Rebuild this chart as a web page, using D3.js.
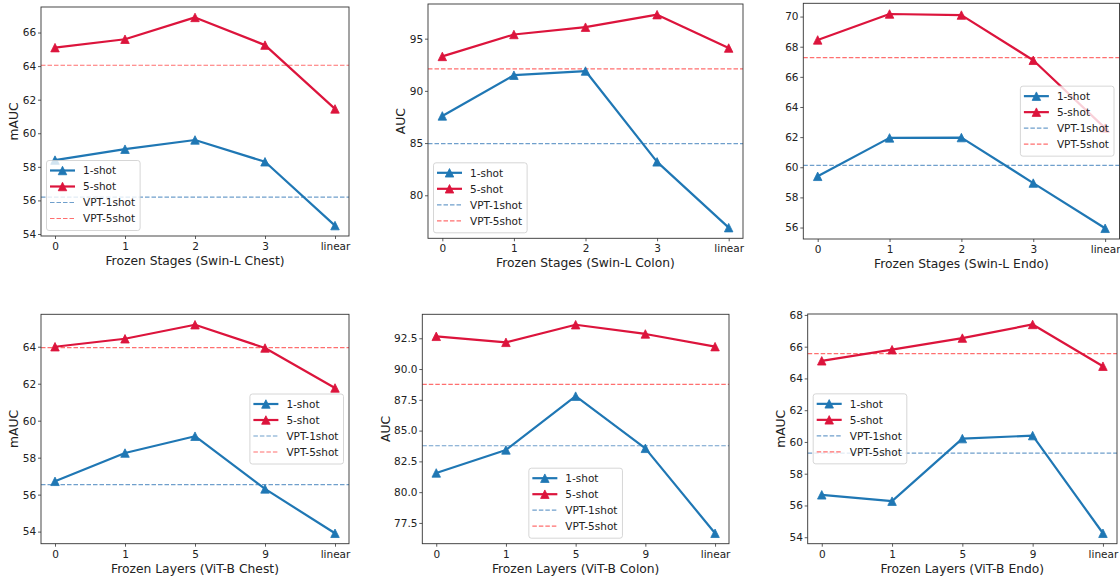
<!DOCTYPE html>
<html>
<head>
<meta charset="utf-8">
<script src="https://cdn.jsdelivr.net/npm/d3@7"></script>
<style>
  body { margin: 0; background: #fff; }
  svg { font-family: "DejaVu Sans", sans-serif; }
</style>
</head>
<body>
<svg id="chart" width="1120" height="578"></svg>
<script>
// tick labels on the x axis
const stageTicks = ["0", "1", "2", "3", "linear"];
const layerTicks = ["0", "1", "5", "9", "linear"];

// Swin-L results (1-shot, 5-shot, [VPT-1shot, VPT-5shot])
const swinChestOne = [58.4, 59.05, 59.6, 58.3, 54.5];
const swinChestFive = [65.1, 65.6, 66.9, 65.25, 61.45];
const swinChestVpt = [56.2, 64.05];

const swinColonOne = [87.6, 91.5, 91.9, 83.2, 76.9];
const swinColonFive = [93.3, 95.4, 96.1, 97.3, 94.1];
const swinColonVpt = [84.95, 92.1];

const swinEndoOne = [59.4, 61.95, 61.97, 58.95, 55.95];
const swinEndoFive = [68.45, 70.17, 70.1, 67.1, 62.6];
const swinEndoVpt = [60.13, 67.28];

// ViT-B results
const vitChestOne = [56.72, 58.25, 59.16, 56.31, 53.91];
const vitChestFive = [64.0, 64.43, 65.19, 63.93, 61.77];
const vitChestVpt = [56.54, 63.95];

const vitColonOne = [81.56, 83.43, 87.8, 83.56, 76.66];
const vitColonFive = [92.66, 92.17, 93.6, 92.85, 91.82];
const vitColonVpt = [83.77, 88.75];

const vitEndoOne = [56.67, 56.27, 60.21, 60.4, 54.25];
const vitEndoFive = [65.11, 65.81, 66.54, 67.4, 64.77];
const vitEndoVpt = [59.3, 65.56];

// y tick values
const swinChestY = [54, 56, 58, 60, 62, 64, 66];
const swinColonY = [80, 85, 90, 95];
const swinEndoY = [56, 58, 60, 62, 64, 66, 68, 70];
const vitChestY = [54, 56, 58, 60, 62, 64];
const vitColonY = [77.5, 80, 82.5, 85, 87.5, 90, 92.5];
const vitEndoY = [54, 56, 58, 60, 62, 64, 66, 68];

const legendLabels = ["1-shot", "5-shot", "VPT-1shot", "VPT-5shot"];

const panels = [
  { cats: stageTicks, one: swinChestOne, five: swinChestFive, vpt: swinChestVpt, yTicks: swinChestY,
    ylabel: "mAUC", xlabel: "Frozen Stages (Swin-L Chest)", box: [41, 7, 349, 236], loc: "lower left" },
  { cats: stageTicks, one: swinColonOne, five: swinColonFive, vpt: swinColonVpt, yTicks: swinColonY,
    ylabel: "AUC", xlabel: "Frozen Stages (Swin-L Colon)", box: [428, 4, 743, 238.3], loc: "lower left" },
  { cats: stageTicks, one: swinEndoOne, five: swinEndoFive, vpt: swinEndoVpt, yTicks: swinEndoY,
    ylabel: "", xlabel: "Frozen Stages (Swin-L Endo)", box: [803.3, 3.3, 1119.5, 239], loc: "center right" },
  { cats: layerTicks, one: vitChestOne, five: vitChestFive, vpt: vitChestVpt, yTicks: vitChestY,
    ylabel: "mAUC", xlabel: "Frozen Layers (ViT-B Chest)", box: [41, 314.3, 349, 543.7], loc: "center right" },
  { cats: layerTicks, one: vitColonOne, five: vitColonFive, vpt: vitColonVpt, yTicks: vitColonY,
    ylabel: "AUC", xlabel: "Frozen Layers (ViT-B Colon)", box: [422.3, 314.3, 729, 543.7], loc: "lower center", fmt: ".1f" },
  { cats: layerTicks, one: vitEndoOne, five: vitEndoFive, vpt: vitEndoVpt, yTicks: vitEndoY,
    ylabel: "mAUC", xlabel: "Frozen Layers (ViT-B Endo)", box: [807.7, 314, 1117, 543.7], loc: "center left" }
];

const blue = "#1f77b4";
const red = "#dc143c";
const vptBlue = "#6f9fcc";
const vptRed = "#ff6f6f";

// matplotlib style "^" marker: width == height, centred on the point
const triangleUp = {
  draw(ctx, size) {
    const r = Math.sqrt(size) / 2;
    ctx.moveTo(0, -r);
    ctx.lineTo(r, r);
    ctx.lineTo(-r, r);
    ctx.closePath();
  }
};
const marker = d3.symbol(triangleUp, 8.5 * 8.5);

const svg = d3.select("#chart");

let drawPanel = (p) => {
  const [x0, y0, x1, y1] = p.box;
  const g = svg.append("g");

  const x = d3.scaleLinear().domain([-0.2, p.cats.length - 0.8]).range([x0, x1]);
  const [lo, hi] = d3.extent(p.one.concat(p.five));
  const m = (hi - lo) * 0.05;
  const y = d3.scaleLinear().domain([lo - m, hi + m]).range([y1, y0]);

  // axes
  const xAxis = d3.axisBottom(x)
    .tickValues(d3.range(p.cats.length))
    .tickFormat((i) => p.cats[i])
    .tickSize(3).tickPadding(3.5);
  const xg = g.append("g").attr("transform", `translate(0,${y1})`).call(xAxis);

  const yAxis = d3.axisLeft(y)
    .tickValues(p.yTicks)
    .tickFormat(p.fmt ? d3.format(p.fmt) : d3.format("d"))
    .tickSize(3).tickPadding(1.8);
  const yg = g.append("g").attr("transform", `translate(${x0},0)`).call(yAxis);

  [xg, yg].forEach((a) => {
    a.select(".domain").remove();
    a.selectAll(".tick line").attr("stroke", "#333").attr("stroke-width", 0.8);
    a.selectAll(".tick text").attr("fill", "#222").style("font-size", "10.5px").style("font-family", "DejaVu Sans");
  });

  // VPT reference lines
  [[p.vpt[0], vptBlue], [p.vpt[1], vptRed]].forEach(([v, c]) => {
    g.append("line")
      .attr("x1", x0).attr("x2", x1)
      .attr("y1", y(v)).attr("y2", y(v))
      .attr("stroke", c).attr("stroke-width", 1.2)
      .attr("stroke-dasharray", "4.5,2");
  });

  // series
  const line = d3.line().x((d, i) => x(i)).y((d) => y(d));
  [[p.one, blue], [p.five, red]].forEach(([vals, c]) => {
    g.append("path")
      .attr("d", line(vals))
      .attr("fill", "none").attr("stroke", c).attr("stroke-width", 2.2)
      .attr("stroke-linejoin", "round");
    g.selectAll(null)
      .data(vals)
      .enter()
      .append("path")
      .attr("d", marker)
      .attr("transform", (d, i) => `translate(${x(i)},${y(d)})`)
      .attr("fill", c).attr("stroke", c).attr("stroke-width", 0.8);
  });

  // frame
  g.append("rect")
    .attr("x", x0).attr("y", y0)
    .attr("width", x1 - x0).attr("height", y1 - y0)
    .attr("fill", "none").attr("stroke", "#333").attr("stroke-width", 0.9);

  // labels
  g.append("text")
    .attr("x", (x0 + x1) / 2).attr("y", y1 + 29)
    .attr("text-anchor", "middle")
    .attr("fill", "#222").style("font-size", "12.3px")
    .text(p.xlabel);

  if (p.ylabel) {
    // getBBox is in the axis group's own coords, so shift by x0
    const left = x0 + yg.node().getBBox().x;
    g.append("text")
      .attr("transform", `translate(${left - 4.5},${(y0 + y1) / 2}) rotate(-90)`)
      .attr("text-anchor", "middle")
      .attr("fill", "#222").style("font-size", "12.3px")
      .text(p.ylabel);
  }

  // legend
  const rowH = 16, handle = 25, padL = 3.5, gap = 8, padR = 5;
  const lg = g.append("g");
  const box = lg.append("rect")
    .attr("fill", "#fff").attr("fill-opacity", 0.8)
    .attr("stroke", "#ccc").attr("stroke-width", 0.8).attr("rx", 2.5);
  let textW = 0;
  legendLabels.forEach((lab, i) => {
    const cy = 10 + i * rowH;
    const t = lg.append("text")
      .attr("x", padL + handle + gap).attr("y", cy).attr("dy", "0.36em")
      .attr("fill", "#222").style("font-size", "10.5px")
      .text(lab);
    textW = Math.max(textW, t.node().getComputedTextLength());
    if (i < 2) {
      const c = i === 0 ? blue : red;
      lg.append("line")
        .attr("x1", padL).attr("x2", padL + handle).attr("y1", cy).attr("y2", cy)
        .attr("stroke", c).attr("stroke-width", 2.2);
      lg.append("path")
        .attr("d", marker)
        .attr("transform", `translate(${padL + handle / 2},${cy})`)
        .attr("fill", c).attr("stroke", c).attr("stroke-width", 0.8);
    } else {
      lg.append("line")
        .attr("x1", padL).attr("x2", padL + handle).attr("y1", cy).attr("y2", cy)
        .attr("stroke", i === 2 ? vptBlue : vptRed).attr("stroke-width", 1.2)
        .attr("stroke-dasharray", "4.5,2");
    }
  });
  const w = padL + handle + gap + textW + padR;
  const h = 4 * rowH + 6;
  box.attr("width", w).attr("height", h);

  const pad = 5.5;
  let lx, ly;
  if (p.loc === "lower left") { lx = x0 + pad; ly = y1 - pad - h; }
  else if (p.loc === "center right") { lx = x1 - pad - w; ly = (y0 + y1) / 2 - h / 2; }
  else if (p.loc === "lower center") { lx = (x0 + x1) / 2 - w / 2; ly = y1 - pad - h; }
  else { lx = x0 + pad; ly = (y0 + y1) / 2 - h / 2; }
  lg.attr("transform", `translate(${lx},${ly})`);
};

panels.forEach((p) => drawPanel(p));
</script>
</body>
</html>
